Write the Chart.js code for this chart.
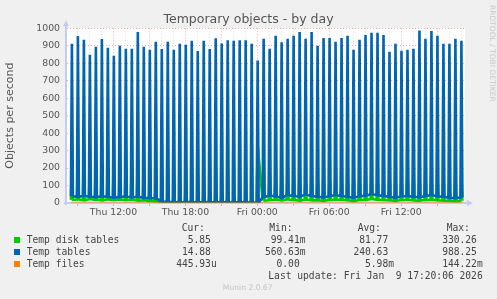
<!DOCTYPE html>
<html>
<head>
<meta charset="utf-8">
<script src="https://cdn.jsdelivr.net/npm/chart.js@4/dist/chart.umd.min.js"></script>
<style>
  html, body { margin: 0; padding: 0; background: #f0f0f0; }
  canvas { display: block; }
</style>
</head>
<body>
<canvas id="tempObjectsChart" width="497" height="299"></canvas>
<script>
/* eslint-disable no-undef */

// time axis, hours counted from Thu 00:00
const firstSpike = 8.53;
const cycleHours = 0.5;
const sampleHours = 1 / 12;
const axisStart = 8.12;
const axisEnd = 41.33;
const labelHours = [12, 18, 24, 30, 36];
const labelTexts = ['Thu 12:00', 'Thu 18:00', 'Fri 00:00', 'Fri 06:00', 'Fri 12:00'];

// Temp tables: one spike every 30 minutes
const tablesPeak = [
  911, 956, 934, 849, 894, 939, 888, 843, 900, 883, 883, 979,
  894, 877, 923, 881, 923, 877, 911, 906, 928, 870, 928, 881, 943, 913, 932, 928, 932, 932,
  911, 815, 940, 883, 957, 920, 940, 957, 979, 940, 979, 900, 945, 945, 923, 945, 957, 877,
  934, 962, 974, 974, 962, 866, 911, 872, 877, 883, 988, 940, 985, 957, 911, 911, 940, 928
];
const tablesLow = [
  38, 35, 40, 36, 33, 38, 35, 30, 34, 37, 32, 36, 30, 28, 25,
  8, 6, 5, 4, 6, 5, 4, 5, 6, 4, 5, 3, 4, 5, 4, 3,
  0,
  35, 42, 38, 30, 45, 40, 36, 48, 40, 35, 32, 38, 45, 40, 35, 30, 38,
  42, 50, 45, 40, 35, 30, 38, 40, 35, 33, 40, 45, 38, 35, 30, 28, 32
];

// Temp disk tables
const diskPeak = [
  260, 230, 280, 210, 250, 240, 200, 270, 220, 190, 240, 260, 180, 150, 120,
  80, 60, 70, 50, 90, 60, 40, 70, 50, 60, 80, 50, 40, 60, 50, 40,
  330,
  150, 190, 170, 210, 160, 180, 200, 140, 190, 170, 220, 160, 180, 150, 200, 170, 190,
  210, 180, 160, 140, 190, 170, 150, 180, 200, 160, 170, 190, 150, 170, 140, 160, 150
];
const diskLow = [
  18, 20, 16, 22, 18, 15, 20, 17, 19, 16, 18, 14, 15, 12, 10,
  3, 2, 2, 1, 2, 2, 1, 2, 2, 1, 2, 1, 2, 2, 1, 1,
  1,
  14, 16, 18, 15, 20, 17, 14, 19, 16, 15, 13, 17, 20, 18, 15, 12, 16,
  18, 22, 19, 17, 15, 13, 16, 18, 15, 14, 17, 19, 16, 14, 12, 11, 13
];
// cycles where disk tables has no sample right after the spike (Fri 00:00)
const diskNoSampleAfter = [31];

// Temp files stays at zero
const filesVal = [
  0, 0, 0, 0, 0, 0, 0, 0, 0, 0, 0, 0, 0, 0, 0, 0, 0, 0, 0, 0, 0, 0,
  0, 0, 0, 0, 0, 0, 0, 0, 0, 0, 0, 0, 0, 0, 0, 0, 0, 0, 0, 0, 0, 0,
  0, 0, 0, 0, 0, 0, 0, 0, 0, 0, 0, 0, 0, 0, 0, 0, 0, 0, 0, 0, 0, 0
];

// legend table
const seriesNames = ['Temp disk tables', 'Temp tables', 'Temp files'];
const curVals = ['5.85 ', '14.88 ', '445.93u'];
const minVals = ['99.41m', '560.63m', '0.00 '];
const avgVals = ['81.77 ', '240.63 ', '5.98m'];
const maxVals = ['330.26 ', '988.25 ', '144.22m'];

const seriesColors = ['#00cc00', '#0066b3', '#ff8000'];
const majorGrid = 'rgba(225, 120, 120, 0.6)';
const minorGrid = 'rgba(190, 190, 190, 0.6)';
const axisColor = '#c4ccf2';

function buildSpikes(peaks, lows, skipAfter) {
  const pts = [];
  peaks.forEach(function (p, k) {
    const t = firstSpike + k * cycleHours;
    pts.push({ x: t - sampleHours, y: lows[k] });
    pts.push({ x: t, y: p });
    if (skipAfter.indexOf(k) === -1) {
      pts.push({ x: t + sampleHours, y: lows[k] });
    }
  });
  return pts;
}

const hourTicks = [];
for (let h = Math.ceil(axisStart); h <= axisEnd; h++) hourTicks.push(h);

const munPlugin = {
  id: 'munin',
  beforeDraw(chart) {
    const ctx = chart.ctx;
    const a = chart.chartArea;
    ctx.save();
    ctx.fillStyle = '#f0f0f0';
    ctx.fillRect(0, 0, chart.width, chart.height);
    ctx.fillStyle = '#ffffff';
    ctx.fillRect(a.left, a.top, a.right - a.left, a.bottom - a.top);
    ctx.restore();
  },
  beforeDatasetsDraw(chart) {
    const ctx = chart.ctx;
    const a = chart.chartArea;
    ctx.save();
    ctx.strokeStyle = axisColor;
    ctx.fillStyle = axisColor;
    ctx.lineWidth = 2;
    ctx.beginPath();
    ctx.moveTo(a.left - 1, a.bottom + 2);
    ctx.lineTo(a.left - 1, a.top - 3);
    ctx.moveTo(a.left - 3, a.bottom);
    ctx.lineTo(a.right + 3, a.bottom);
    ctx.stroke();
    ctx.beginPath();
    ctx.moveTo(a.left - 4, a.top - 2);
    ctx.lineTo(a.left + 2, a.top - 2);
    ctx.lineTo(a.left - 1, a.top - 8);
    ctx.closePath();
    ctx.fill();
    ctx.beginPath();
    ctx.moveTo(a.right + 2, a.bottom - 3);
    ctx.lineTo(a.right + 2, a.bottom + 3);
    ctx.lineTo(a.right + 8, a.bottom);
    ctx.closePath();
    ctx.fill();
    ctx.restore();
  },
  afterDraw(chart) {
    const ctx = chart.ctx;
    ctx.save();
    ctx.textBaseline = 'middle';

    ctx.fillStyle = '#555';
    ctx.font = '12.5px "DejaVu Sans"';
    ctx.textAlign = 'center';
    ctx.fillText('Temporary objects - by day', 248.5, 20);

    ctx.save();
    ctx.translate(492, 5);
    ctx.rotate(Math.PI / 2);
    ctx.textAlign = 'left';
    ctx.fillStyle = '#c8c8c8';
    ctx.font = '7.5px "DejaVu Sans"';
    ctx.fillText('RRDTOOL / TOBI OETIKER', 0, 0);
    ctx.restore();

    ctx.font = '9.65px "DejaVu Sans Mono"';
    ctx.fillStyle = '#444';
    ctx.textAlign = 'left';
    ctx.fillText('Cur:', 181.7, 228);
    ctx.fillText('Min:', 269.3, 228);
    ctx.fillText('Avg:', 357.7, 228);
    ctx.fillText('Max:', 446.7, 228);
    seriesNames.forEach(function (name, i) {
      const y = 240 + i * 12;
      ctx.fillStyle = seriesColors[i];
      ctx.fillRect(14, y - 3, 6, 6);
      ctx.fillStyle = '#444';
      ctx.textAlign = 'left';
      ctx.fillText(name, 26.7, y);
      ctx.textAlign = 'right';
      ctx.fillText(curVals[i], 216.7, y);
      ctx.fillText(minVals[i], 305.5, y);
      ctx.fillText(avgVals[i], 394, y);
      ctx.fillText(maxVals[i], 482.7, y);
    });
    ctx.textAlign = 'right';
    ctx.fillText('Last update: Fri Jan  9 17:20:06 2026', 482.7, 276);

    ctx.textAlign = 'center';
    ctx.fillStyle = '#c4c4c4';
    ctx.font = '7.6px "DejaVu Sans"';
    ctx.fillText('Munin 2.0.67', 247.7, 288);
    ctx.restore();
  }
};

function drawChart() {
  const ctx = document.getElementById('tempObjectsChart').getContext('2d');

  const data = {
    datasets: [
      {
        label: seriesNames[0],
        data: buildSpikes(diskPeak, diskLow, diskNoSampleAfter),
        borderColor: seriesColors[0],
        borderWidth: 2.6,
        order: 3
      },
      {
        label: seriesNames[1],
        data: buildSpikes(tablesPeak, tablesLow, []),
        borderColor: seriesColors[1],
        borderWidth: 2.6,
        order: 2
      },
      {
        label: seriesNames[2],
        data: buildSpikes(filesVal, filesVal, []),
        borderColor: seriesColors[2],
        borderWidth: 1,
        order: 1
      }
    ]
  };

  const config = {
    type: 'line',
    data: data,
    plugins: [munPlugin],
    options: {
      responsive: false,
      animation: false,
      events: [],
      layout: {
        padding: { top: 28.3, right: 32, bottom: 0, left: 0 }
      },
      elements: {
        point: { radius: 0 },
        line: { tension: 0, fill: false }
      },
      plugins: {
        legend: { display: false },
        tooltip: { enabled: false },
        title: { display: false }
      },
      scales: {
        x: {
          type: 'linear',
          min: axisStart,
          max: axisEnd,
          afterBuildTicks: function (axis) {
            axis.ticks = hourTicks.map(function (v) { return { value: v }; });
          },
          afterFit: function (axis) { axis.height = 96; },
          ticks: {
            autoSkip: false,
            maxRotation: 0,
            padding: 1,
            color: '#555',
            font: { family: 'DejaVu Sans', size: 9.33 },
            callback: function (v) {
              const i = labelHours.indexOf(v);
              return i === -1 ? '' : labelTexts[i];
            }
          },
          grid: {
            tickLength: 3,
            color: function (c) { return c.tick && c.tick.value % 3 === 0 ? majorGrid : minorGrid; },
            tickColor: function (c) { return c.tick && c.tick.value % 3 === 0 ? majorGrid : 'rgba(0,0,0,0)'; }
          },
          border: { display: false, dash: [1, 2] }
        },
        y: {
          min: 0,
          max: 1000,
          afterFit: function (axis) { axis.width = 67; },
          title: {
            display: true,
            text: 'Objects per second',
            color: '#555',
            font: { family: 'DejaVu Sans', size: 11 },
            padding: { top: 4, bottom: 0 }
          },
          ticks: {
            stepSize: 50,
            padding: 5,
            color: '#555',
            font: { family: 'DejaVu Sans', size: 9.33 },
            callback: function (v) { return v % 100 === 0 ? v : ''; }
          },
          grid: {
            tickLength: 2,
            color: function (c) { return c.tick && c.tick.value % 100 === 0 ? majorGrid : minorGrid; },
            tickColor: function (c) { return c.tick && c.tick.value % 100 === 0 ? majorGrid : 'rgba(0,0,0,0)'; }
          },
          border: { display: false, dash: [1, 2] }
        }
      }
    }
  };
  const myChart = new Chart(ctx, config);
}

drawChart();
</script>
</body>
</html>
